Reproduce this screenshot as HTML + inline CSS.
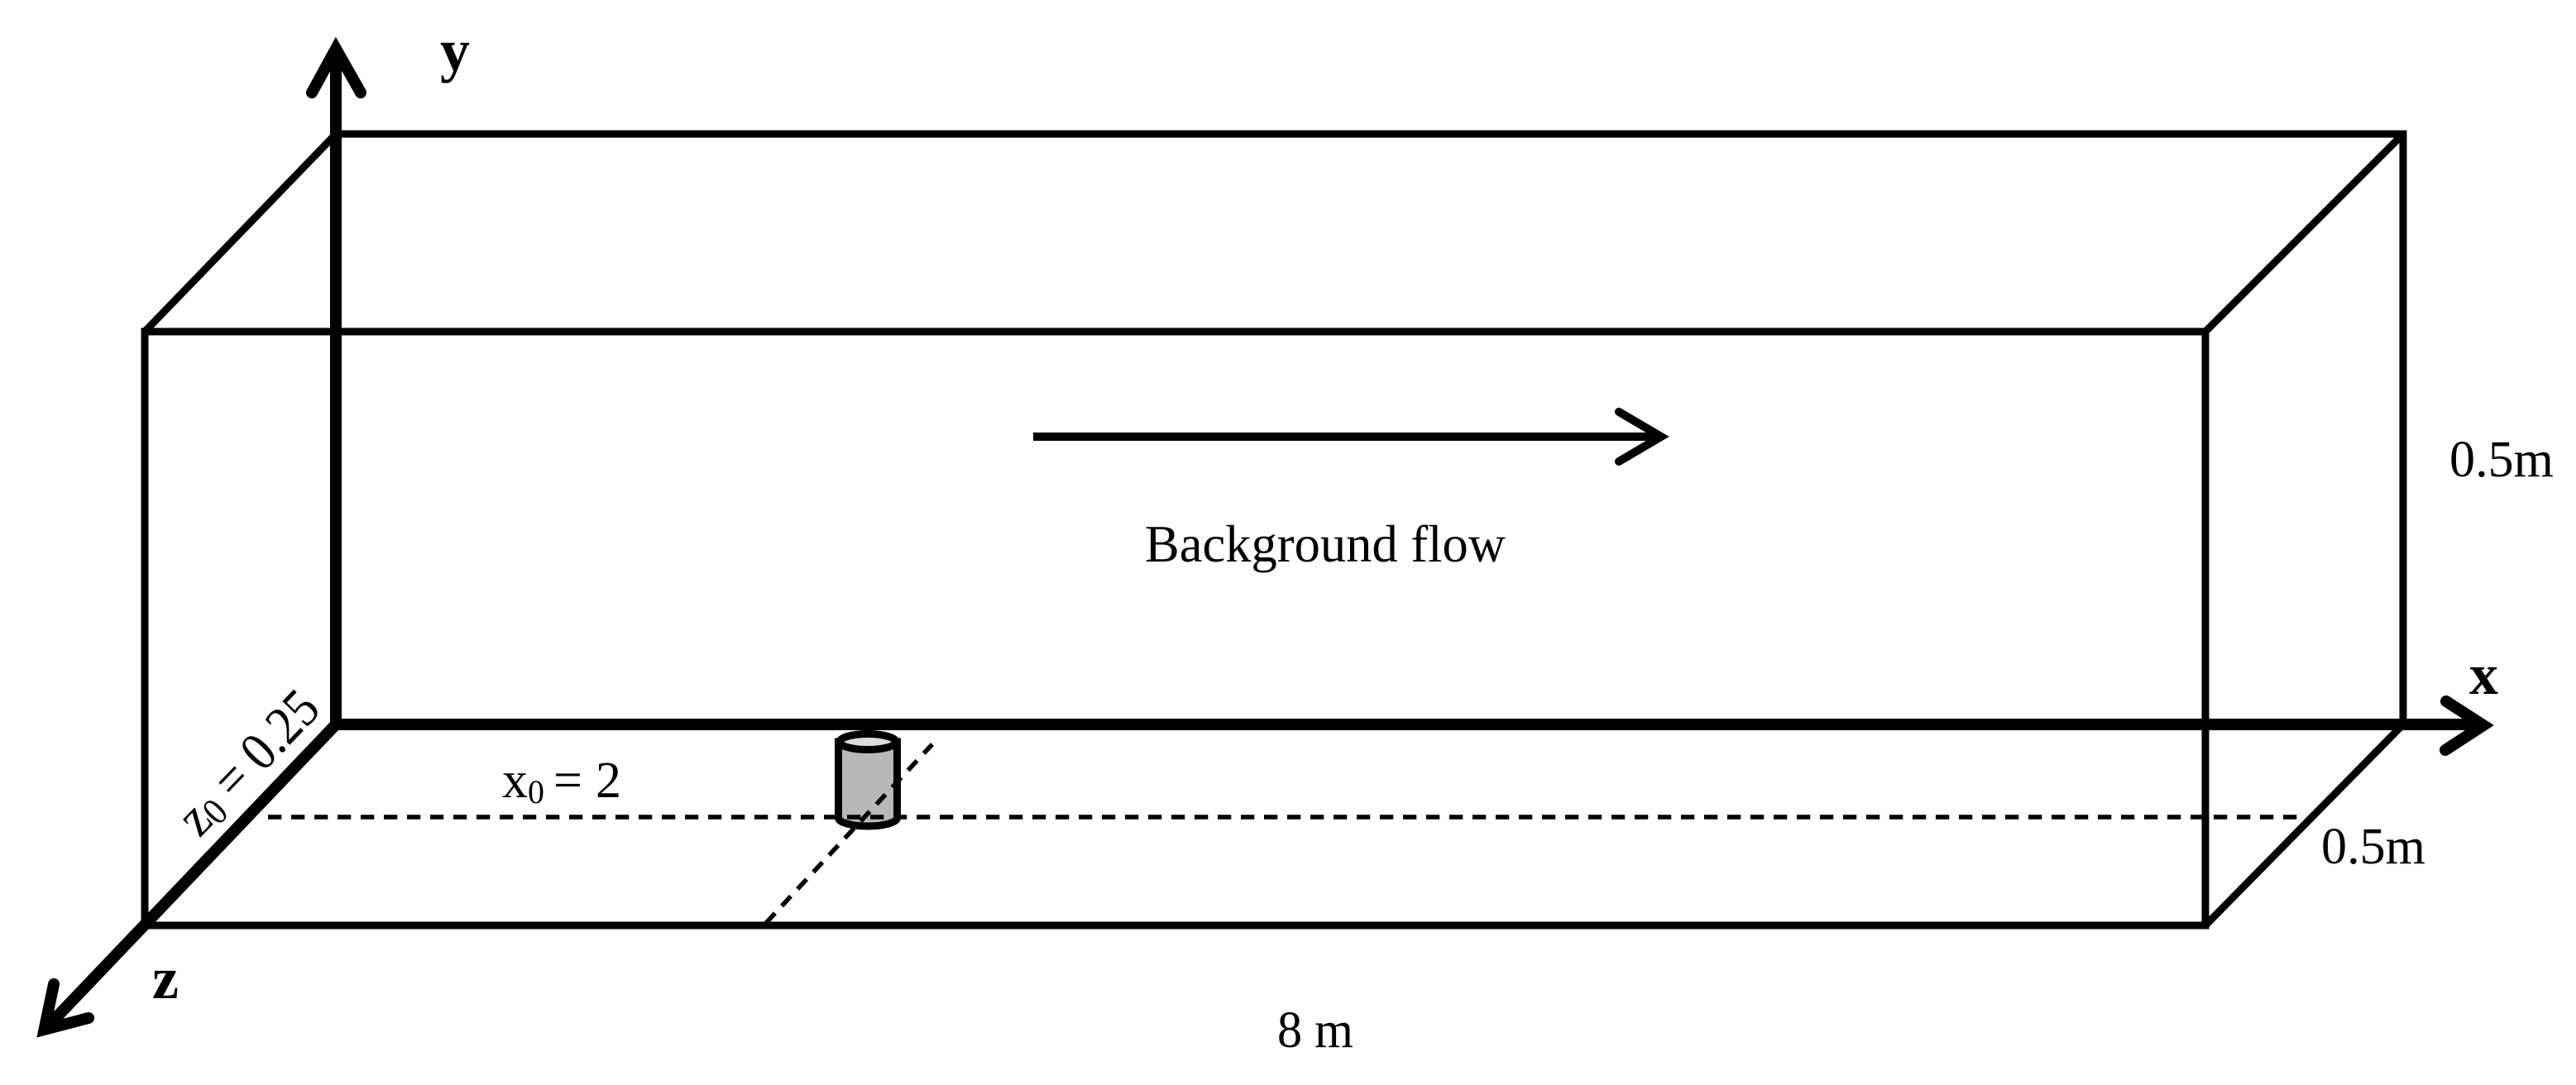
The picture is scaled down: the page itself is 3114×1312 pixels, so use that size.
<!DOCTYPE html>
<html lang="en">
<head>
<meta charset="utf-8">
<title>Channel diagram</title>
<style>
html,body{margin:0;padding:0;background:#fff;width:3114px;height:1312px;overflow:hidden}
svg{display:block}
text{font-family:"Liberation Serif",serif;fill:#000}
.b{font-weight:bold}
</style>
</head>
<body>
<svg width="3114" height="1312" viewBox="0 0 3114 1312" xmlns="http://www.w3.org/2000/svg">
<rect width="3114" height="1312" fill="#fff"/>
<g fill="none" stroke="#000" stroke-width="9">
  <path d="M406 162H2905V876"/>
  <path d="M175 1119V401H2666V1119H175"/>
  <path d="M406 162L175 401"/>
  <path d="M2905 162L2666 401"/>
  <path d="M2905 876L2666 1119"/>
</g>
<!-- cylinder -->
<g stroke="#000" stroke-width="9">
  <path d="M1013.5 897V989A35.5 10 0 0 0 1084.5 989V897Z" fill="#b8b8b8"/>
  <ellipse cx="1049" cy="897" rx="34" ry="9.5" fill="#dcdcdc"/>
</g>
<!-- dashed guides -->
<g fill="none" stroke="#000" stroke-width="5.5">
  <path d="M324 988H2779" stroke-dasharray="16.3 11.7"/>
  <path d="M926 1116L1127 900" stroke-dasharray="16 12"/>
</g>
<!-- axes -->
<g fill="none" stroke="#000" stroke-width="14">
  <path d="M406 876V60"/>
  <path d="M400 876H3002"/>
  <path d="M406 876L54 1245"/>
</g>
<g fill="none" stroke="#000" stroke-width="14" stroke-linecap="round" stroke-linejoin="miter" stroke-miterlimit="10">
  <path d="M377 112L406 59L436 112"/>
  <path d="M2957 848L3002 877L2956 907"/>
  <path d="M65 1190L53.5 1245L107 1231"/>
</g>
<!-- flow arrow -->
<path d="M1249 528H2005" fill="none" stroke="#000" stroke-width="10"/>
<path d="M1957 498L2008 528L1957 558" fill="none" stroke="#000" stroke-width="10" stroke-linecap="round"/>
<!-- labels -->
<text class="b" x="532" y="85" font-size="72">y</text>
<text class="b" x="2985" y="839" font-size="70">x</text>
<text class="b" x="184" y="1207" font-size="72">z</text>
<text x="1384" y="679" font-size="63" textLength="436" lengthAdjust="spacingAndGlyphs">Background flow</text>
<text x="2961" y="576" font-size="62" textLength="126" lengthAdjust="spacingAndGlyphs">0.5m</text>
<text x="2806" y="1044" font-size="62" textLength="126" lengthAdjust="spacingAndGlyphs">0.5m</text>
<text x="1544" y="1266" font-size="62" textLength="92" lengthAdjust="spacingAndGlyphs">8 m</text>
<text x="607" y="964" font-size="62">x<tspan x="638" y="971" font-size="40">0</tspan><tspan x="669" y="964">=</tspan><tspan x="720" y="964">2</tspan></text>
<text transform="translate(241 1014) rotate(-46) scale(.9 1)" font-size="66">z<tspan font-size="46" dy="6">0</tspan><tspan dy="-6"> = 0.25</tspan></text>
</svg>
</body>
</html>
